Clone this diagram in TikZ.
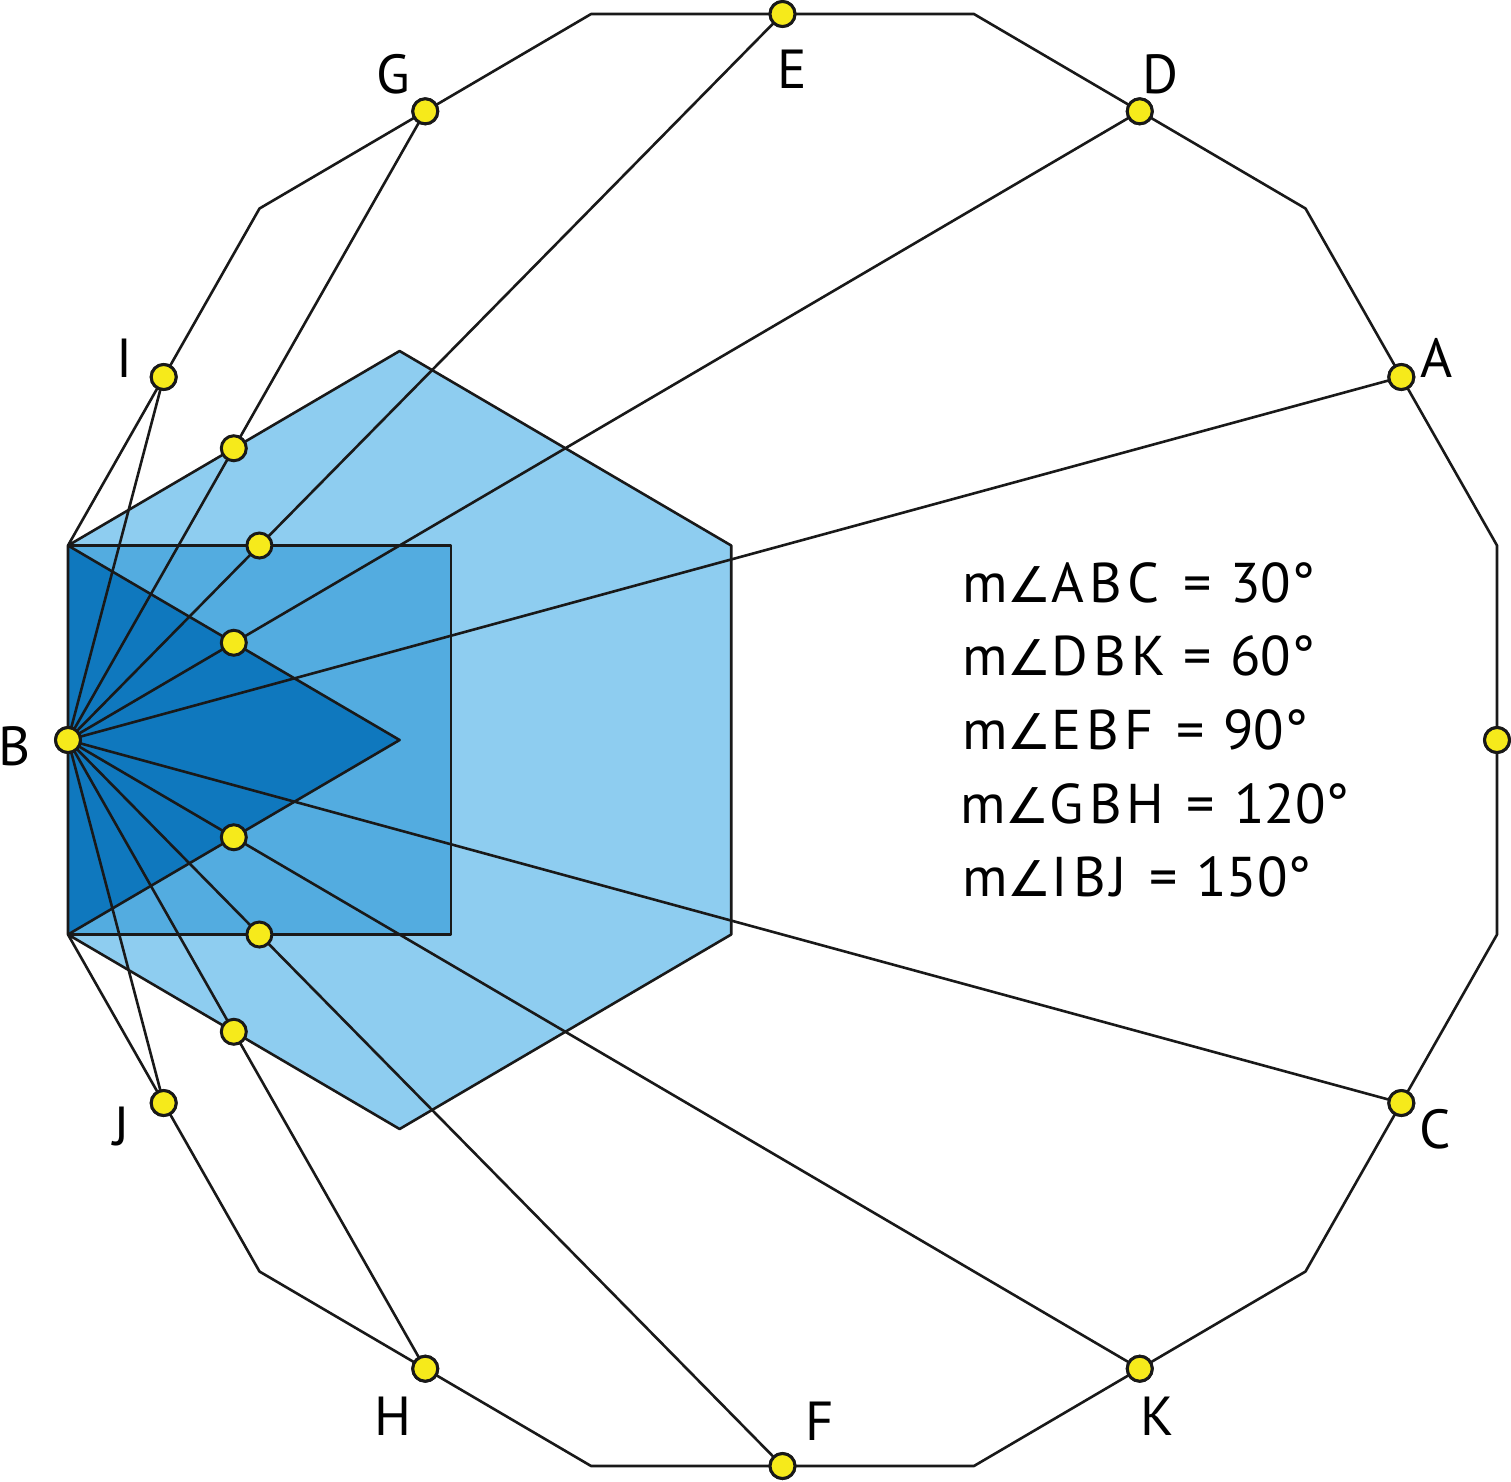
\documentclass[tikz,border=0pt]{standalone}
\usepackage{fontspec}
\setmainfont{PT Sans}
\newfontfamily\symfont[Scale=0.88]{DejaVu Sans}
\begin{document}
\begin{tikzpicture}[x=1pt,y=-1pt,
  edge/.style={line width=2.6pt,draw=black!90,line join=round},
  dot/.style={circle,fill=dotyellow,draw=black!90,line width=3pt,minimum size=25pt,inner sep=0pt},
  lbl/.style={anchor=base,font=\fontsize{55}{60}\selectfont,inner sep=0pt},
  eqtext/.style={anchor=base west,font=\fontsize{56}{60}\selectfont,inner sep=0pt}]
\definecolor{dotyellow}{HTML}{F6EA1B}
\definecolor{hexblue}{HTML}{8ECDF0}
\definecolor{sqblue}{HTML}{53ACE0}
\definecolor{triblue}{HTML}{0F78BE}
\useasboundingbox (0,0) rectangle (1511,1481);
% dodecagon vertices
\coordinate (v15) at (1497,545.5);
\coordinate (v45) at (1305.5,208.5);
\coordinate (v75) at (973.9,14);
\coordinate (v105) at (591.1,14);
\coordinate (v135) at (259.5,208.5);
\coordinate (v165) at (68,545.5);
\coordinate (v195) at (68,934.5);
\coordinate (v225) at (259.5,1271.5);
\coordinate (v255) at (591.1,1466);
\coordinate (v285) at (973.9,1466);
\coordinate (v315) at (1305.5,1271.5);
\coordinate (v345) at (1497,934.5);
% shapes
\coordinate (h1) at (399.6,351);
\coordinate (h2) at (731.2,545.5);
\coordinate (h3) at (731.2,934.5);
\coordinate (h4) at (399.6,1129);
\coordinate (s1) at (450.8,545.5);
\coordinate (s2) at (450.8,934.5);
\coordinate (t1) at (399.6,740);
\fill[hexblue] (v165) -- (h1) -- (h2) -- (h3) -- (h4) -- (v195) -- cycle;
\fill[sqblue] (v165) -- (s1) -- (s2) -- (v195) -- cycle;
\fill[triblue] (v165) -- (t1) -- (v195) -- cycle;
\draw[edge] (v165) -- (h1) -- (h2) -- (h3) -- (h4) -- (v195);
\draw[edge] (v165) -- (s1) -- (s2) -- (v195);
\draw[edge] (v165) -- (t1) -- (v195);
\draw[edge] (v15) -- (v45) -- (v75) -- (v105) -- (v135) -- (v165) -- (v195) -- (v225) -- (v255) -- (v285) -- (v315) -- (v345) -- cycle;
% points
\node[dot] (B) at (68,740) {};
\node[dot] (M0) at (1497,740) {};
\node[dot] (A) at (1401.3,377) {};
\node[dot] (D) at (1139.75,111.3) {};
\node[dot] (E) at (782.5,14) {};
\node[dot] (G) at (425.25,111.3) {};
\node[dot] (I) at (163.7,377) {};
\node[dot] (J) at (163.7,1103) {};
\node[dot] (H) at (425.25,1368.7) {};
\node[dot] (F) at (782.5,1466) {};
\node[dot] (K) at (1139.75,1368.7) {};
\node[dot] (C) at (1401.3,1103) {};
% rays
\foreach \p in {A,C,D,K,E,F,G,H,I,J}
  \draw[edge] (B.center) -- (\p.center);
% intersection points
\node[dot] (pg) at (233.8,448.25) {};
\node[dot] (pe) at (259.4,545.5) {};
\node[dot] (pd) at (233.8,642.75) {};
\node[dot] (pk) at (233.8,837.25) {};
\node[dot] (pf) at (259.4,934.5) {};
\node[dot] (ph) at (233.8,1031.75) {};
% redraw end dots on top
\foreach \p in {B,M0,A,D,E,G,I,J,H,F,K,C}
  \node[dot] at (\p.center) {};
% labels
\node[lbl] (lG) at (393,93) {G};
\node[lbl] (lE) at (792,88) {E};
\node[lbl] (lD) at (1160,93) {D};
\node[lbl] (lA) at (1437,377) {A};
\node[lbl] (lI) at (125,377) {I};
\node[lbl] (lB) at (15,765) {B};
\node[lbl] (lJ) at (122,1145) {J};
\node[lbl] (lC) at (1435,1148) {C};
\node[lbl] (lH) at (393,1435) {H};
\node[lbl] (lF) at (820,1440) {F};
\node[lbl] (lK) at (1157,1435) {K};
% equations
\newcommand\lsp{\kern5pt}
\node[eqtext] (q1) at (962,602) {m{\symfont ∠}A\lsp B\lsp C};
\node[eqtext] (q1e) at (1183,602) {=};
\node[eqtext] (q1n) at (1230,602) {30°};
\node[eqtext] (q2) at (962,675) {m{\symfont ∠}D\lsp B\lsp K};
\node[eqtext] (q2e) at (1183,675) {=};
\node[eqtext] (q2n) at (1230,675) {60°};
\node[eqtext] (q3) at (962,749) {m{\symfont ∠}E\lsp B\lsp F};
\node[eqtext] (q3e) at (1176,749) {=};
\node[eqtext] (q3n) at (1223,749) {90°};
\node[eqtext] (q4) at (960,823) {m{\symfont ∠}G\lsp B\lsp H};
\node[eqtext] (q4e) at (1186,823) {=};
\node[eqtext] (q4n) at (1234,823) {120°};
\node[eqtext] (q5) at (962,896) {m{\symfont ∠}I\lsp B\lsp J};
\node[eqtext] (q5e) at (1149,896) {=};
\node[eqtext] (q5n) at (1196,896) {150°};
\end{tikzpicture}
\end{document}
